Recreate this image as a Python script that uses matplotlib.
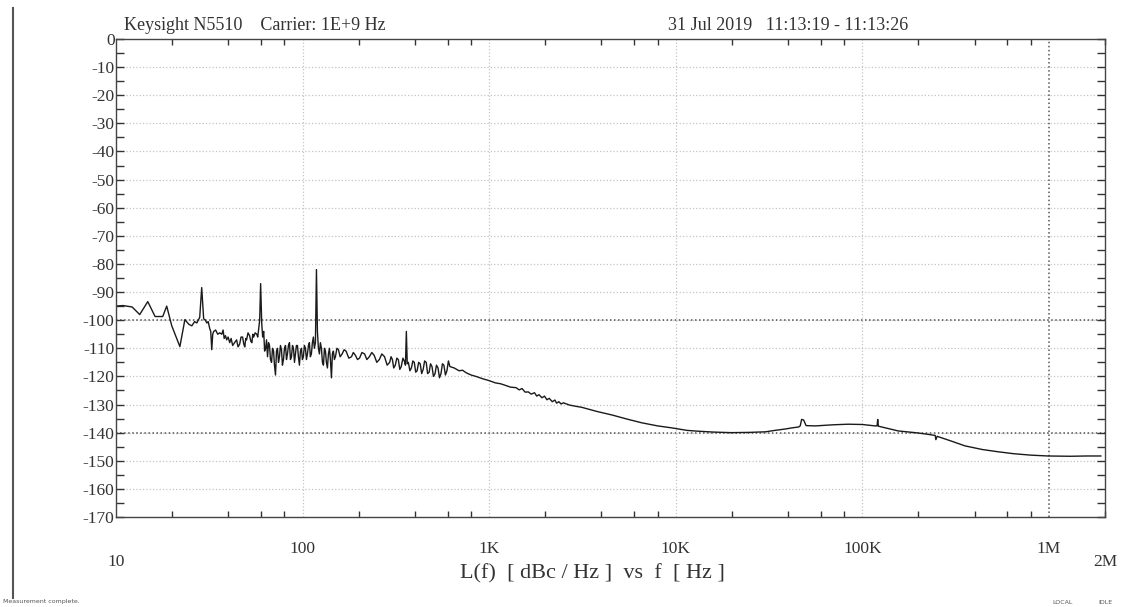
import matplotlib
matplotlib.use('Agg')
import matplotlib.pyplot as plt
from matplotlib.ticker import LogLocator, MultipleLocator, NullFormatter

# --- Data ---
freq_hz = [
    # 10 - 30 Hz
    10, 10.9, 12.2, 13.4, 14.8, 16.2, 17.8, 18.7, 19.9, 22.0,
    23.4, 24.6, 25.5, 26.4, 27.1, 28.1, 28.8, 29.5,
    # 30 - 60 Hz
    30.1, 30.7, 31.2, 31.8, 32.2, 32.6, 33.0, 33.4, 34.2, 35.1,
    36.0, 36.9, 37.5, 38.0, 38.6, 39.2, 39.9, 40.7, 41.4, 42.2,
    43.2, 44.3, 45.1, 46.0, 46.8, 47.7, 48.4, 49.0, 49.6, 50.1,
    51.0, 52.0, 52.8, 53.5, 54.1, 54.7, 55.7, 56.8, 57.5, 58.2,
    58.9, 59.6,
    # 60 - 150 Hz
    60.4, 61.1, 61.9, 62.6, 63.4, 64.1, 64.9, 65.7, 66.5, 67.3,
    68.2, 69.0, 69.9, 70.7, 71.6, 72.5, 73.4, 74.3, 75.2, 76.1,
    77.1, 78.0, 79.0, 80.0, 81.0, 82.0, 83.0, 84.0, 85.1, 86.1,
    87.2, 88.3, 89.4, 90.5, 91.6, 92.7, 93.9, 95.0, 96.2, 97.4,
    98.6, 99.8, 101, 102.3, 103.6, 104.9, 106.2, 107.5, 108.8, 110.1,
    111.5, 112.9, 114.3, 115.7, 117.2, 118.7, 120.1, 121.6, 123.1, 124.6,
    126.2, 127.8, 129.4, 131.0, 132.6, 134.2, 135.9, 137.6, 139.3, 141.0,
    142.8, 144.5, 146.3, 148.1,
    # 150 - 620 Hz
    150, 152.8, 155.7, 159, 163, 167, 171, 177, 183, 187,
    192, 197, 202, 208, 215, 221, 228, 235, 242, 250,
    258, 266, 275, 284, 293, 298, 303, 308, 314, 320,
    326, 332, 338, 345, 351, 356, 360, 364, 369, 376,
    383, 390, 397, 404, 411, 419, 427, 435, 443, 451,
    460, 468, 477, 485, 494, 503, 513, 522, 532, 542,
    552, 562, 572, 583, 594, 605, 616,
    # 650 Hz - 3 kHz
    650, 690, 720, 753, 800, 850, 920, 1000, 1080, 1150,
    1200, 1300, 1394, 1450, 1500, 1560, 1620, 1680, 1750, 1800,
    1850, 1920, 1980, 2040, 2100, 2180, 2250, 2300, 2365, 2430,
    2500, 2700, 2900, 3140,
    # 3 kHz - 2 MHz
    3800, 4545, 5500, 6580, 8000, 9520, 11500, 13280, 16000, 19900,
    25000, 30300, 34000, 38700, 42000, 45500, 46500, 47300, 48500, 50000,
    56100, 70000, 84100, 100000, 117000, 120000, 121000, 122000, 135000, 156000,
    192000, 220000, 246000, 248000, 252000, 300000, 355000, 440000, 534000, 650000,
    801000, 988000, 1300000, 1600000, 1900000,
]
level_dbc = [
    # 10 - 30 Hz
    -95, -94.8, -95.3, -98, -93.4, -98.7, -98.7, -95, -102, -109.4,
    -99.8, -101.5, -102, -100.5, -101, -99, -88.4, -99.5,
    # 30 - 60 Hz
    -100, -101, -100.5, -103, -104, -110.5, -105, -104, -103.5, -105,
    -104.5, -105, -103.5, -106.5, -105.5, -107, -106, -108, -106.5, -109,
    -108, -107, -109.5, -108.5, -106, -106, -108.5, -109.5, -106.5, -107,
    -104.5, -105.5, -107.5, -108, -105, -106, -104.5, -105, -106, -103,
    -100, -87,
    # 60 - 150 Hz
    -101, -106, -104, -111, -110, -107, -113, -108, -109, -114,
    -115, -110, -111, -116, -119.5, -111, -110, -115, -113, -109,
    -110.5, -116, -114, -110, -109, -114, -112, -109, -108, -114,
    -113, -109, -110, -115, -112, -109, -109, -113, -116, -111,
    -110, -114, -113, -109, -110, -114, -112, -109, -108, -113,
    -112, -108, -106, -110, -108, -82, -104, -110, -112, -108,
    -110, -115, -116, -110, -111, -115, -117, -112, -110, -114,
    -120.5, -112, -111, -114,
    # 150 - 620 Hz
    -113, -110, -110.5, -113, -112, -110.5, -111, -113.5, -113, -111.5,
    -112.5, -114, -113.5, -111.5, -112, -114, -113, -111.5, -112.5, -115,
    -114, -112, -113, -116, -115, -113, -114, -117, -116, -113.5,
    -114, -117.5, -116.5, -113.5, -114.5, -116, -104, -115.5, -115, -118,
    -117, -114.5, -115, -118.5, -118, -115, -115.5, -119, -117.5, -114.5,
    -115, -119, -118.5, -115.5, -116.5, -120, -119, -116, -117, -120.5,
    -119, -115.5, -116, -119.5, -118, -114.5, -116.5,
    # 650 Hz - 3 kHz
    -117, -118, -117.8, -118.7, -119.5, -120, -120.8, -121.5, -122.3, -122.6,
    -123, -123.8, -124, -124.8, -124.3, -125.6, -125.5, -126.3, -125.8, -127,
    -126.5, -127.6, -127, -128.3, -127.8, -129, -128.4, -129.5, -129, -129.8,
    -129.4, -130.2, -130.6, -131,
    # 3 kHz - 2 MHz
    -132.5, -133.7, -135.2, -136.5, -137.6, -138.3, -139.2, -139.5, -139.8, -140,
    -139.9, -139.7, -139.2, -138.7, -138.3, -138, -137.6, -135.3, -135.5, -137.5,
    -137.6, -137.2, -137, -137.1, -137.6, -137.6, -135.3, -137.7, -138.4, -139.4,
    -140, -140.5, -141, -142.5, -141.3, -143, -144.7, -146, -146.8, -147.5,
    -148, -148.3, -148.4, -148.3, -148.3,
]

x_tick_freqs = [10, 100, 1e3, 1e4, 1e5, 1e6, 2e6]
x_tick_labels = ['10', '100', '1K', '10K', '100K', '1M', '2M']
x_label_drop = [True, False, False, False, False, False, True]
y_tick_values = [0, -10, -20, -30, -40, -50, -60, -70, -80,
                 -90, -100, -110, -120, -130, -140, -150, -160, -170]
ref_lines_db = [-100, -140]
ref_lines_hz = [1e6]

# --- Styling ---
plt.rcParams['font.family'] = ['Liberation Serif', 'DejaVu Serif']
TEXT_COLOR = '#333333'

fig = plt.figure(figsize=(11.24, 6.07), dpi=100)
ax = fig.add_axes([116 / 1124, 1 - 517 / 607, (1105 - 116) / 1124, (517 - 39) / 607])

ax.plot(freq_hz, level_dbc, color='#1a1a1a', linewidth=1.0)

ax.set_xscale('log')
ax.set_xlim(10, 2e6)
ax.set_ylim(-170, 0)

# grid
for f in [100, 1e3, 1e4, 1e5]:
    ax.axvline(f, color='#c4c4c4', linestyle=':', linewidth=0.9, zorder=0)
for v in y_tick_values[1:-1]:
    ax.axhline(v, color='#c4c4c4', linestyle=':', linewidth=0.9, zorder=0)
for v in ref_lines_db:
    ax.axhline(v, color='#555555', linestyle=':', linewidth=1.1, zorder=0)
for f in ref_lines_hz:
    ax.axvline(f, color='#555555', linestyle=':', linewidth=1.1, zorder=0)

# x ticks: minor at 2,4,6,8 each decade, labels drawn by hand
ax.xaxis.set_major_locator(LogLocator(base=10, numticks=20))
ax.xaxis.set_minor_locator(LogLocator(base=10, subs=[2, 4, 6, 8], numticks=20))
ax.xaxis.set_minor_formatter(NullFormatter())
ax.set_xticklabels([])
ax.tick_params(axis='x', which='major', length=0, top=True)
ax.tick_params(axis='x', which='minor', direction='in', length=4, width=1.0,
               top=True, bottom=True, color=TEXT_COLOR)
for f, lab, drop in zip(x_tick_freqs, x_tick_labels, x_label_drop):
    ax.text(f, -0.095 if drop else -0.066, lab, transform=ax.get_xaxis_transform(),
            ha='center', va='center', fontsize=12.5, color=TEXT_COLOR)

ax.set_yticks(y_tick_values)
ax.set_yticklabels([f'-{abs(v)}' if v else '0' for v in y_tick_values])
ax.yaxis.set_minor_locator(MultipleLocator(5))
ax.tick_params(axis='y', which='both', direction='in', left=True, right=True,
               length=6, width=1.0, pad=1, labelsize=12.5, color=TEXT_COLOR,
               labelcolor=TEXT_COLOR)

for s in ax.spines.values():
    s.set_color('#444444')
    s.set_linewidth(1.0)

ax.text(0.482, -0.118, 'L(f)  [ dBc / Hz ]  vs  f  [ Hz ]', transform=ax.transAxes,
        ha='center', va='center', fontsize=16, color=TEXT_COLOR)

fig.text(124 / 1124, 1 - 26 / 607, 'Keysight N5510    Carrier: 1E+9 Hz',
         ha='left', va='center', fontsize=13, color=TEXT_COLOR)
fig.text(668 / 1124, 1 - 26 / 607, '31 Jul 2019   11:13:19 - 11:13:26',
         ha='left', va='center', fontsize=13, color=TEXT_COLOR)

# scan border and instrument status texts
fig.add_artist(plt.Line2D([13 / 1124, 13 / 1124], [1 - 8 / 607, 1 - 598 / 607],
                          color='#555555', linewidth=1.5))
fig.text(3 / 1124, 1 - 602 / 607, 'Measurement complete.', fontsize=4.5,
         family='DejaVu Sans', color='#555555', ha='left', va='center')
fig.text(1052 / 1124, 1 - 602 / 607, 'LOCAL', fontsize=4.5,
         family='DejaVu Sans', color='#555555', ha='left', va='center')
fig.text(1098 / 1124, 1 - 602 / 607, 'IDLE', fontsize=4.5,
         family='DejaVu Sans', color='#555555', ha='left', va='center')

plt.savefig('out.png', dpi=100)
